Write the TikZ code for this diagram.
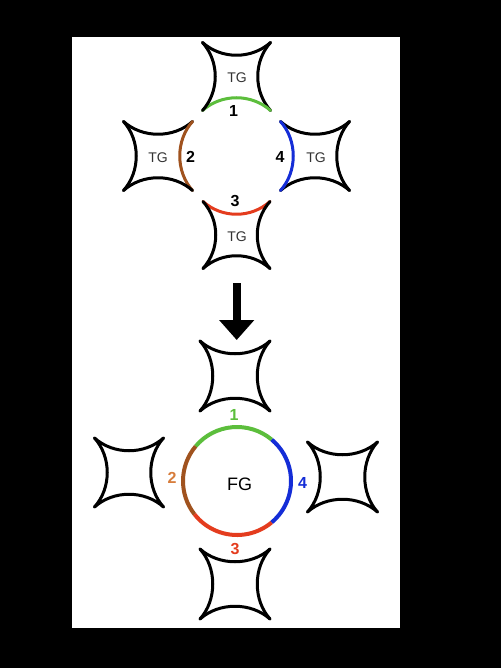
\documentclass[tikz,border=0pt]{standalone}
\usepackage{fontspec}
\setmainfont{Liberation Sans}
\usetikzlibrary{arrows.meta}
\definecolor{tgreen}{RGB}{92,190,60}
\definecolor{tbrown}{RGB}{160,82,30}
\definecolor{torange}{RGB}{215,125,60}
\definecolor{tblue}{RGB}{20,45,215}
\definecolor{tred}{RGB}{228,60,30}
\newcommand\astroshape[7]{% x, y, half size, top, right, bottom, left colours
\begin{scope}[shift={(#1,#2)}]
\pgfmathsetmacro\aa{#3}
\pgfmathsetmacro\kk{#3-19}
\pgfmathsetmacro\hh{#3-17}
\draw[astro,#4] (-\aa,-\aa) .. controls (-\kk,-\hh) and (\kk,-\hh) .. (\aa,-\aa);
\draw[astro,#5] (\aa,-\aa) .. controls (\hh,-\kk) and (\hh,\kk) .. (\aa,\aa);
\draw[astro,#6] (\aa,\aa) .. controls (\kk,\hh) and (-\kk,\hh) .. (-\aa,\aa);
\draw[astro,#7] (-\aa,\aa) .. controls (-\hh,\kk) and (-\hh,-\kk) .. (-\aa,-\aa);
\end{scope}}
\tikzset{
  astro/.style={line width=3pt,line cap=round,line join=round,black},
  tg/.style={font=\fontsize{14}{16}\selectfont,text=black!80,inner sep=0pt},
  num/.style={font=\fontsize{16}{18}\selectfont\bfseries,inner sep=0pt},
  ring/.style={line width=4pt},
  bigarrow/.style={line width=8pt,-{Triangle[width=34pt 0 0,length=20pt 0 0]}}
}
\begin{document}
\begin{tikzpicture}[x=1pt,y=-1pt]
\useasboundingbox (0,0) rectangle (501,668);
\fill[black] (0,0) rectangle (501,668);
\fill[white] (72,37) rectangle (400,628);
% ---------- top: four TG units ----------
\astroshape{236.5}{76.5}{34}{}{}{tgreen}{}
\astroshape{158}{156}{34.5}{}{tbrown}{}{}
\astroshape{315}{156}{34.5}{}{}{}{tblue}
\astroshape{236.5}{235}{33.5}{tred}{}{}{}
\node[tg] (tg1) at (237,78) {TG};
\node[tg] (tg2) at (158,158) {TG};
\node[tg] (tg4) at (316,158) {TG};
\node[tg] (tg3) at (237,237) {TG};
\node[num] (n1) at (233.5,111) {1};
\node[num] (n2) at (190.5,156.5) {2};
\node[num] (n4) at (280,156.5) {4};
\node[num] (n3) at (235,201) {3};
% ---------- arrow ----------
\coordinate (atop) at (236.7,283);
\coordinate (atip) at (236.7,340);
\draw[bigarrow] (atop) -- (atip);
% ---------- bottom: FG ring ----------
\astroshape{235}{376}{35}{}{}{}{}
\astroshape{129}{472.5}{34.5}{}{}{}{}
\astroshape{342.5}{477}{35}{}{}{}{}
\astroshape{235}{584}{35}{}{}{}{}
\node[font=\fontsize{18}{20}\selectfont,inner sep=0pt] (fg) at (239.5,484) {FG};
\coordinate (fc) at (237,481);
\draw[ring,tgreen] ([shift={(50:54pt)}]fc) arc[start angle=50,end angle=140,radius=54pt];
\draw[ring,tbrown] ([shift={(140:54pt)}]fc) arc[start angle=140,end angle=218,radius=54pt];
\draw[ring,tred] ([shift={(218:54pt)}]fc) arc[start angle=218,end angle=310,radius=54pt];
\draw[ring,tblue] ([shift={(310:54pt)}]fc) arc[start angle=310,end angle=410,radius=54pt];
\node[num,text=tgreen] (m1) at (234,415) {1};
\node[num,text=torange] (m2) at (172,477.5) {2};
\node[num,text=tblue] (m4) at (302.5,482.5) {4};
\node[num,text=tred] (m3) at (235,549) {3};
\end{tikzpicture}
\end{document}
